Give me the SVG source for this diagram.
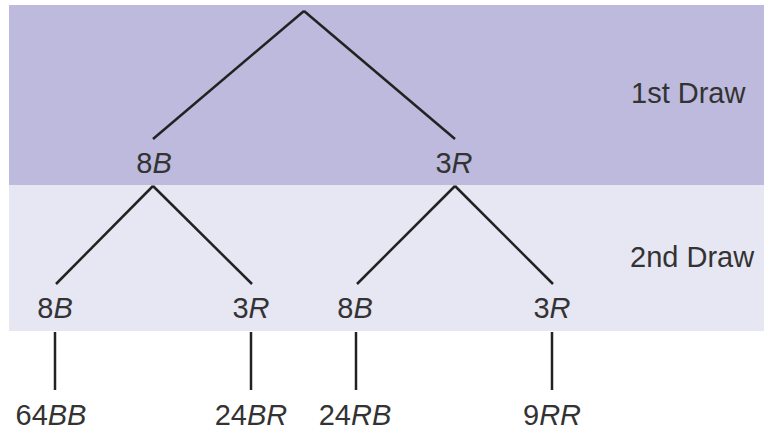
<svg xmlns="http://www.w3.org/2000/svg" width="764" height="430" viewBox="0 0 764 430">
<style>
text { font-family: "Liberation Sans", Arial, sans-serif; font-size: 29px; fill: #333333; }
.c { text-anchor: middle; }
.i { font-style: italic; }
.edge { stroke: #222222; stroke-width: 2.5; fill: none; }
</style>
<rect x="9" y="5" width="755" height="180" fill="#bdbadd"/>
<rect x="9" y="185" width="755" height="146" fill="#e7e6f3"/>
<g id="connectors">
<line class="edge" x1="304" y1="11" x2="153" y2="139"/>
<line class="edge" x1="304" y1="11" x2="455" y2="139"/>
<line class="edge" x1="153" y1="186" x2="56" y2="284"/>
<line class="edge" x1="153" y1="186" x2="252" y2="284"/>
<line class="edge" x1="455" y1="186" x2="357" y2="284"/>
<line class="edge" x1="455" y1="186" x2="553" y2="284"/>
<line class="edge" x1="55" y1="332" x2="55" y2="390"/>
<line class="edge" x1="251" y1="332" x2="251" y2="390"/>
<line class="edge" x1="356" y1="332" x2="356" y2="390"/>
<line class="edge" x1="552" y1="332" x2="552" y2="390"/>
</g>
<g id="label-1st"><text x="631" y="103">1st Draw</text></g>
<g id="label-2nd"><text x="630" y="267">2nd Draw</text></g>
<g id="n1-8B"><text class="c" x="154" y="173">8<tspan class="i">B</tspan></text></g>
<g id="n1-3R"><text class="c" x="454" y="173">3<tspan class="i">R</tspan></text></g>
<g id="n2-8B-a"><text class="c" x="55" y="318">8<tspan class="i">B</tspan></text></g>
<g id="n2-3R-a"><text class="c" x="251" y="318">3<tspan class="i">R</tspan></text></g>
<g id="n2-8B-b"><text class="c" x="355" y="318">8<tspan class="i">B</tspan></text></g>
<g id="n2-3R-b"><text class="c" x="552" y="318">3<tspan class="i">R</tspan></text></g>
<g id="o-64BB"><text class="c" x="51" y="425">64<tspan class="i">BB</tspan></text></g>
<g id="o-24BR"><text class="c" x="251" y="425">24<tspan class="i">BR</tspan></text></g>
<g id="o-24RB"><text class="c" x="355" y="425">24<tspan class="i">RB</tspan></text></g>
<g id="o-9RR"><text class="c" x="552" y="425">9<tspan class="i">RR</tspan></text></g>
</svg>
